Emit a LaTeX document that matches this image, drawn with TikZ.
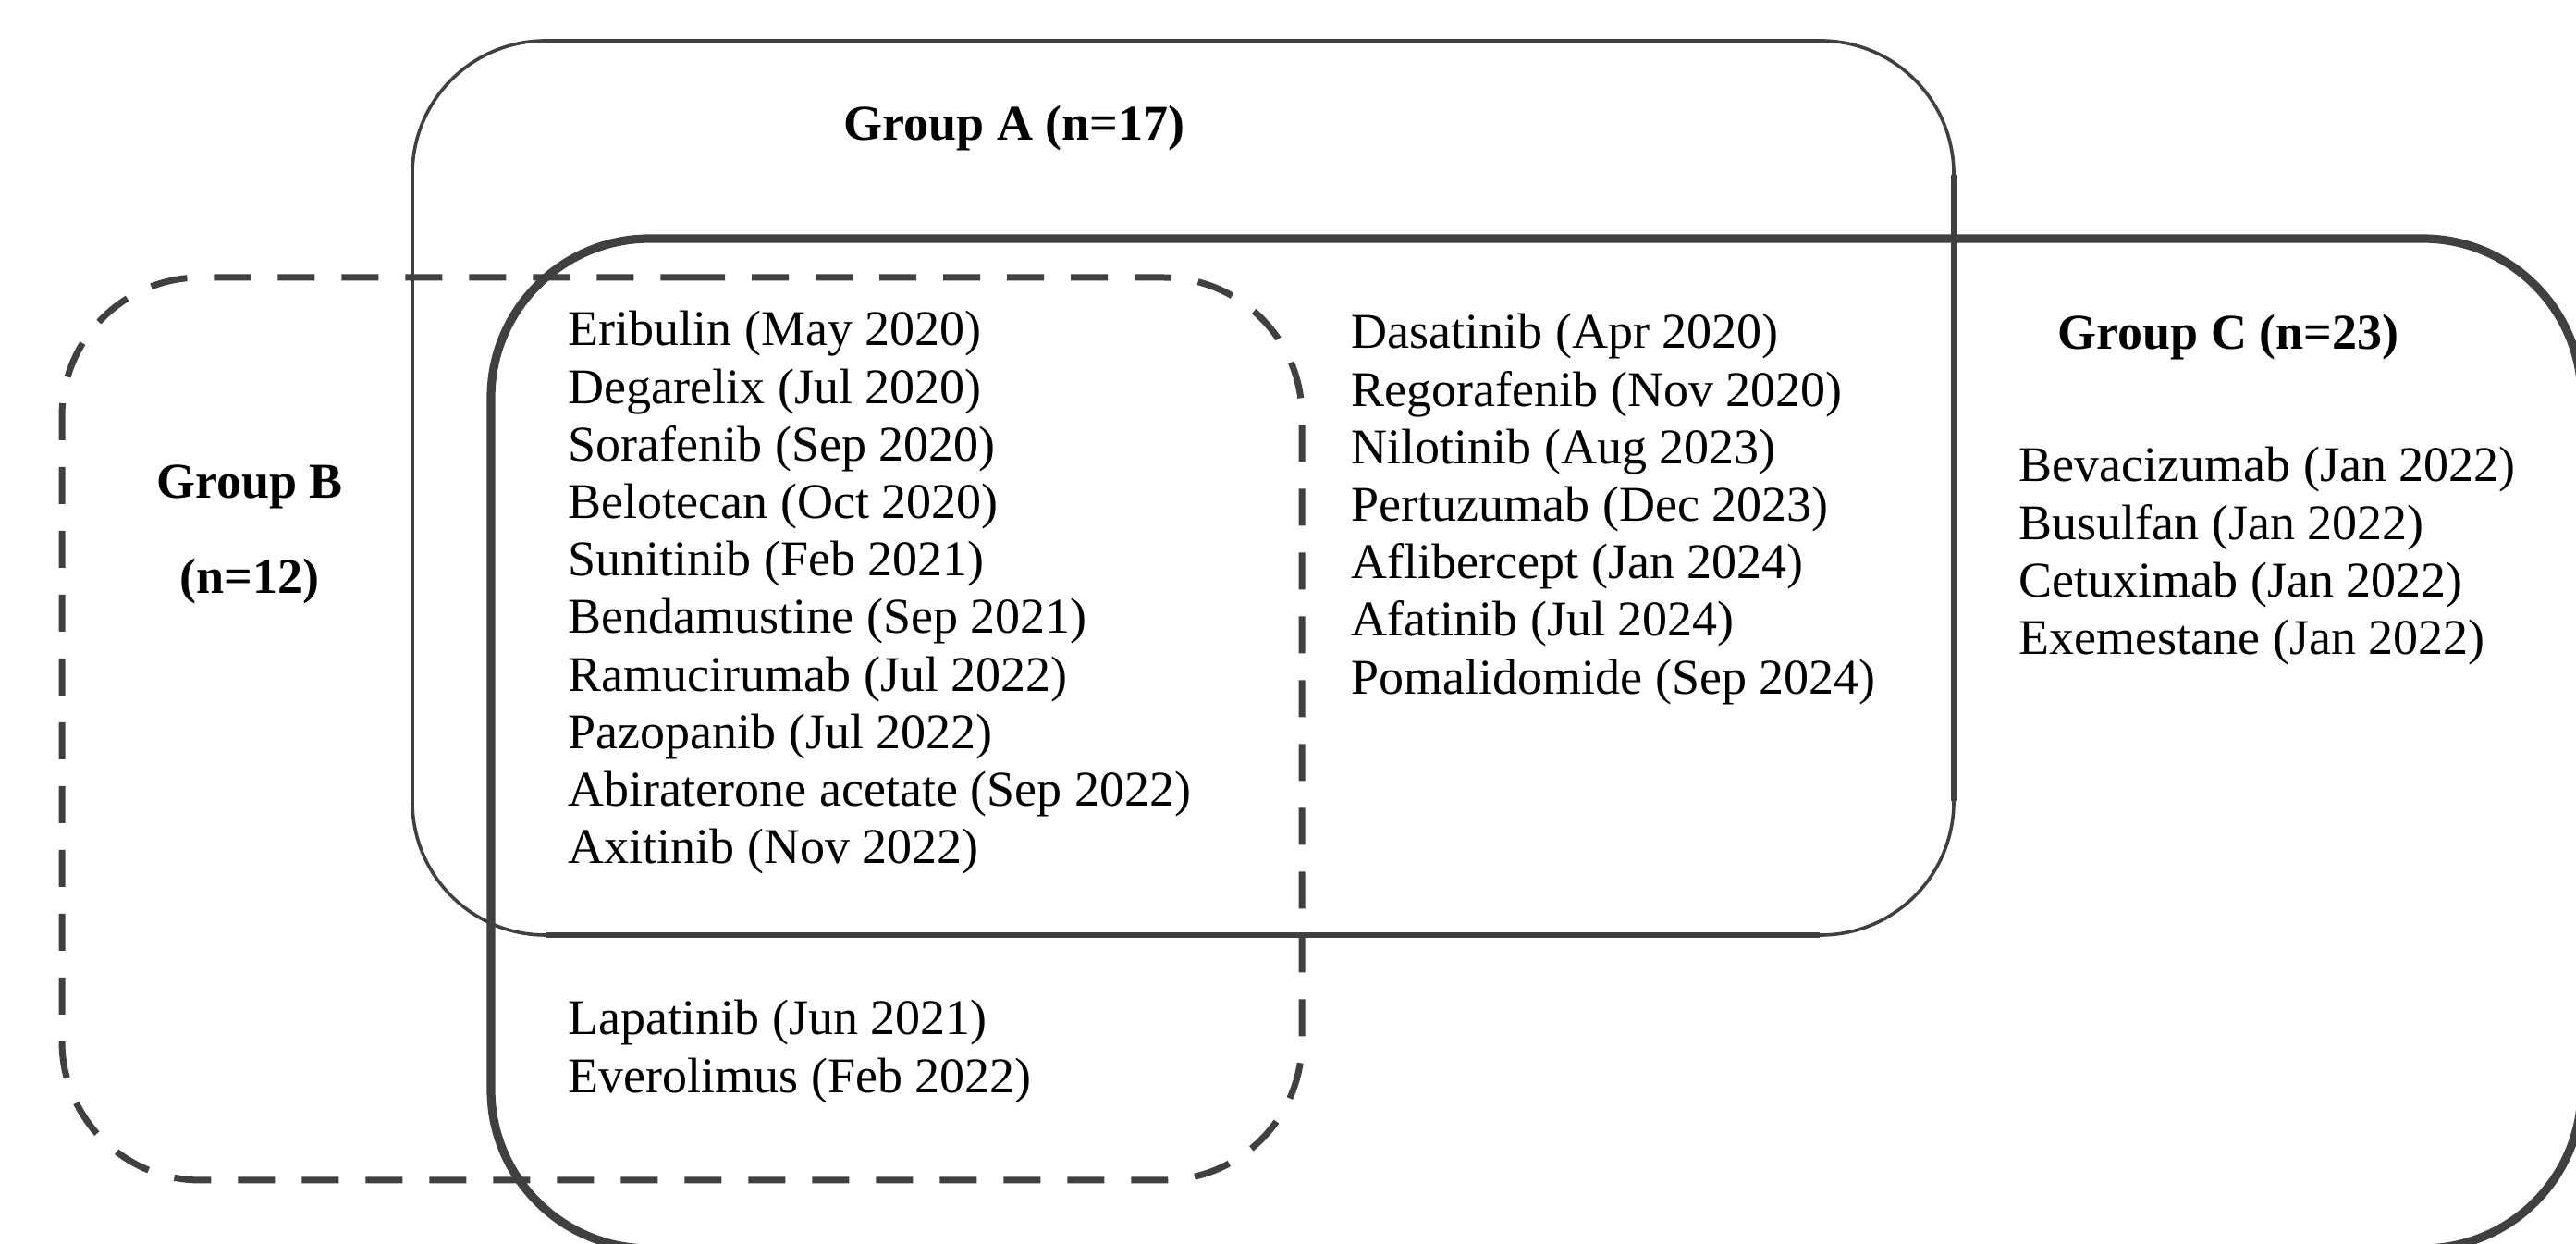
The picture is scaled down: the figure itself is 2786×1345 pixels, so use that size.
\documentclass[tikz,border=0pt]{standalone}
\usepackage{fontspec}
\setmainfont{Liberation Serif}
\definecolor{linegray}{HTML}{404040}
\tikzset{
  boxA/.style={draw=linegray, line width=0.9pt, rounded corners=36pt},
  boxAthick/.style={draw=linegray, line width=1.6pt},
  boxB/.style={draw=linegray, line width=1.75pt, rounded corners=37.5pt, dash pattern=on 10pt off 7.25pt},
  boxC/.style={draw=linegray, line width=2.3pt, rounded corners=43pt},
  lbl/.style={inner sep=0pt, font=\fontsize{13.5}{15.55}\selectfont\bfseries},
  lst/.style={inner sep=0pt, anchor=base west, font=\fontsize{13.5}{15.55}\selectfont}
}
\begin{document}
\begin{tikzpicture}[x=0.25pt,y=-0.25pt]
\useasboundingbox (0,0) rectangle (2786,1345);
\clip (0,0) rectangle (2786,1345);
\fill[white] (0,0) rectangle (2786,1345);
% Group A
\draw[boxA] (446,44) rectangle (2113,1011);
\draw[boxAthick] (2113,189) -- (2113,866);
\draw[boxAthick] (1968,1011) -- (591,1011);
% Group C
\draw[boxC] (531,258) rectangle (2792,1350);
% Group B (dashed)
\draw[boxB] (594,300) -- (1408,300) -- (1408,1276) -- (67,1276) -- (67,300) -- cycle;
% labels
\node[lbl, anchor=base west] (labA) at (912,152) {Group A (n=17)};
\node[lbl, anchor=base] (labB1) at (270,539) {Group B};
\node[lbl, anchor=base] (labB2) at (270,642) {(n=12)};
\node[lbl, anchor=base west] (labC) at (2225,378) {Group C (n=23)};
% lists
\node[lst] (abc) at (614,374) {\begin{tabular}[t]{@{}l@{}}
Eribulin (May 2020)\\
Degarelix (Jul 2020)\\
Sorafenib (Sep 2020)\\
Belotecan (Oct 2020)\\
Sunitinib (Feb 2021)\\
Bendamustine (Sep 2021)\\
Ramucirumab (Jul 2022)\\
Pazopanib (Jul 2022)\\
Abiraterone acetate (Sep 2022)\\
Axitinib (Nov 2022)
\end{tabular}};
\node[lst] (bc) at (614,1119) {\begin{tabular}[t]{@{}l@{}}
Lapatinib (Jun 2021)\\
Everolimus (Feb 2022)
\end{tabular}};
\node[lst] (ac) at (1461,377) {\begin{tabular}[t]{@{}l@{}}
Dasatinib (Apr 2020)\\
Regorafenib (Nov 2020)\\
Nilotinib (Aug 2023)\\
Pertuzumab (Dec 2023)\\
Aflibercept (Jan 2024)\\
Afatinib (Jul 2024)\\
Pomalidomide (Sep 2024)
\end{tabular}};
\node[lst] (conly) at (2183,521) {\begin{tabular}[t]{@{}l@{}}
Bevacizumab (Jan 2022)\\
Busulfan (Jan 2022)\\
Cetuximab (Jan 2022)\\
Exemestane (Jan 2022)
\end{tabular}};
\end{tikzpicture}
\end{document}
